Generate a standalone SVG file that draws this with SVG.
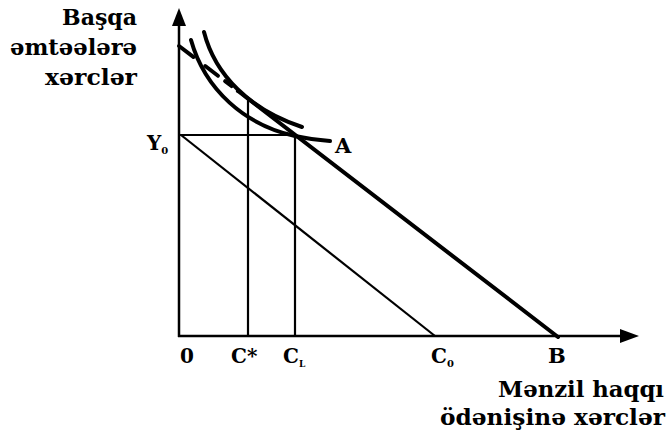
<svg xmlns="http://www.w3.org/2000/svg" width="666" height="437" viewBox="0 0 666 437">
<style>
.t{font-family:"DejaVu Serif","Liberation Serif",serif;font-weight:bold;fill:#000}
.ax{stroke:#000;stroke-width:2.5;fill:none}
.thin{stroke:#000;stroke-width:2.2;fill:none}
.thick{stroke:#000;stroke-width:4;fill:none;stroke-linecap:round}
</style>
<rect width="666" height="437" fill="#fff"/>
<g id="axes">
<line class="ax" x1="179" y1="337" x2="179" y2="20"/>
<polygon points="179,8 172,26 186,26" fill="#000"/>
<line class="ax" x1="178" y1="336" x2="626" y2="336"/>
<polygon points="639,336 620,329 620,343" fill="#000"/>
</g>
<g id="connectors">
<line class="thin" x1="179" y1="135" x2="296" y2="135"/>
<line class="thin" x1="181" y1="135" x2="435" y2="336"/>
<line class="thin" x1="248" y1="100" x2="248" y2="336"/>
<line class="thin" x1="295" y1="135" x2="295" y2="336"/>
<line class="thick" x1="179" y1="46" x2="238" y2="91" stroke-dasharray="18 15 16 9 8 8" stroke-linecap="butt"/>
<line class="thick" x1="238" y1="91" x2="558" y2="337"/>
</g>
<g id="curves">
<path class="thick" d="M191,40 C205,90 245,125 295,136 C307,138.6 318,140 330,141"/>
<path class="thick" d="M204,32 C215,75 250,110 302,127"/>
</g>
<g id="labels">
<text class="t" x="137" y="25" font-size="22" text-anchor="end" textLength="75" lengthAdjust="spacingAndGlyphs">Başqa</text>
<text class="t" x="137" y="55" font-size="22" text-anchor="end" textLength="127" lengthAdjust="spacingAndGlyphs">əmtəələrə</text>
<text class="t" x="137" y="85" font-size="22" text-anchor="end" textLength="92" lengthAdjust="spacingAndGlyphs">xərclər</text>
<text class="t" x="147" y="150" font-size="20">Y<tspan font-size="10" dy="4">0</tspan></text>
<text class="t" x="335" y="153" font-size="21">A</text>
<text class="t" x="180" y="363" font-size="20">0</text>
<text class="t" x="231" y="363" font-size="20">C*</text>
<text class="t" x="283" y="363" font-size="20">C<tspan font-size="9" dy="4">L</tspan></text>
<text class="t" x="431" y="363" font-size="20">C<tspan font-size="10" dy="4">0</tspan></text>
<text class="t" x="548" y="363" font-size="21">B</text>
<text class="t" x="664" y="397" font-size="22" text-anchor="end" textLength="166" lengthAdjust="spacingAndGlyphs">Mənzil haqqı</text>
<text class="t" x="665" y="425" font-size="22" text-anchor="end" textLength="225" lengthAdjust="spacingAndGlyphs">ödənişinə xərclər</text>
</g>
</svg>
